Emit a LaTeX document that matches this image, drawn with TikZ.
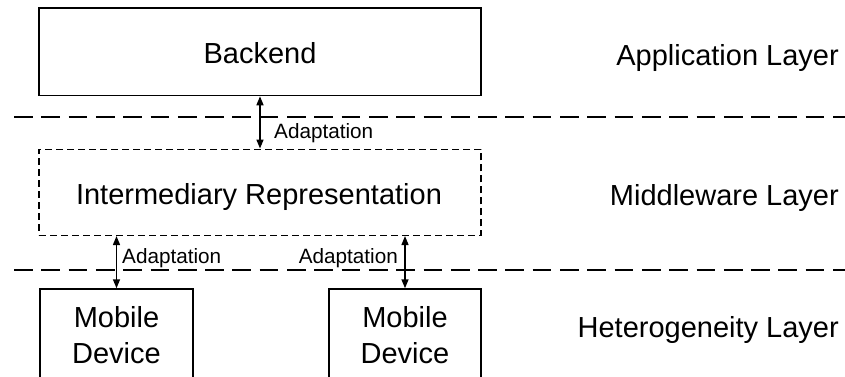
\documentclass[tikz,border=0pt]{standalone}
\usepackage{fontspec}
\setmainfont{Liberation Sans}
\usetikzlibrary{arrows.meta}
\begin{document}
\begin{tikzpicture}[x=1pt,y=-1pt,
  boxstyle/.style={draw=black,line width=1.5pt,inner sep=0pt,fill=none},
  dashbox/.style={boxstyle,dash pattern=on 7pt off 4pt},
  bigtext/.style={anchor=base,inner sep=0pt,font=\fontsize{29}{36}\selectfont},
  smalltext/.style={anchor=base west,inner sep=0pt,font=\fontsize{20.7}{24}\selectfont},
  layerline/.style={line width=2pt,dash pattern=on 18.7pt off 8.6pt},
  biarrow/.style={line width=1.5pt,{Triangle[length=9pt,width=7pt]}-{Triangle[length=9pt,width=7pt]}}
]
\useasboundingbox (0,0) rectangle (845,376);
\clip (0,0) rectangle (845,376);

% boxes
\node[boxstyle,minimum width=442pt,minimum height=87.5pt] (backend) at (260,51.8) {};
\node[dashbox,minimum width=442pt,minimum height=86pt] (inter) at (260,192.3) {};
\node[boxstyle,minimum width=153pt,minimum height=100pt] (mob1) at (116.5,339) {};
\node[boxstyle,minimum width=152pt,minimum height=100pt] (mob2) at (405,339) {};

% box texts
\node[bigtext] (tbackend) at (260,63) {Backend};
\node[bigtext] (tinter) at (259,204) {Intermediary Representation};
\node[bigtext] (tmob1a) at (116.5,327) {Mobile};
\node[bigtext] (tmob1b) at (116.5,363) {Device};
\node[bigtext] (tmob2a) at (405,327) {Mobile};
\node[bigtext] (tmob2b) at (405,363) {Device};

% layer names
\node[bigtext,anchor=base east] (lapp) at (839,65) {Application Layer};
\node[bigtext,anchor=base east] (lmid) at (839,205) {Middleware Layer};
\node[bigtext,anchor=base east] (lhet) at (839,337) {Heterogeneity Layer};

% layer separators
\coordinate (s1a) at (14,117);
\coordinate (s1b) at (845,117);
\coordinate (s2a) at (14,270);
\coordinate (s2b) at (845,270);
\draw[layerline] (s1a) -- (s1b);
\draw[layerline] (s2a) -- (s2b);

% adaptation arrows
\draw[biarrow] (backend.south) -- (inter.north);
\draw[biarrow] (mob1.north |- inter.south) -- (mob1.north);
\draw[biarrow] (mob2.north |- inter.south) -- (mob2.north);

\node[smalltext] (ad1) at (274,138) {Adaptation};
\node[smalltext] (ad2) at (122,263) {Adaptation};
\node[smalltext,anchor=base east] (ad3) at (398,263) {Adaptation};
\end{tikzpicture}
\end{document}
